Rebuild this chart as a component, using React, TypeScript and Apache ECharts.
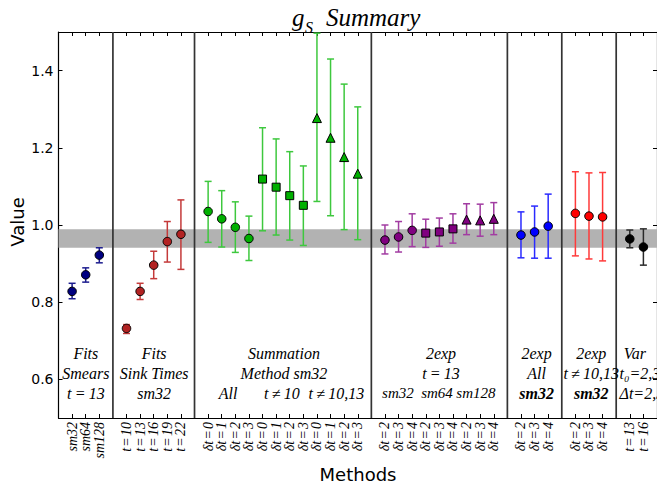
import React, { useEffect, useRef } from 'react';
import * as echarts from 'echarts';

// ---------- data ----------
const smearLabels = ['sm32', 'sm64', 'sm128'];
const smearVals = [0.828, 0.871, 0.922];
const smearLo = [0.809, 0.852, 0.902];
const smearHi = [0.849, 0.889, 0.941];

const sinkLabels = ['t\u200a=\u200a10', 't\u200a=\u200a13', 't\u200a=\u200a16', 't\u200a=\u200a19', 't\u200a=\u200a22'];
const sinkVals = [0.732, 0.828, 0.896, 0.957, 0.976];
const sinkLo = [0.719, 0.807, 0.861, 0.904, 0.885];
const sinkHi = [0.742, 0.849, 0.932, 1.009, 1.065];

const sumLabels = ['δt\u200a=\u200a0', 'δt\u200a=\u200a1', 'δt\u200a=\u200a2', 'δt\u200a=\u200a3'];
const sumAllVals = [1.035, 1.016, 0.994, 0.965];
const sumAllLo = [0.955, 0.943, 0.929, 0.908];
const sumAllHi = [1.113, 1.089, 1.060, 1.023];
const sumT10Vals = [1.119, 1.098, 1.076, 1.051];
const sumT10Lo = [0.985, 0.974, 0.961, 0.947];
const sumT10Hi = [1.252, 1.223, 1.190, 1.153];
const sumT1013Vals = [1.277, 1.226, 1.176, 1.133];
const sumT1013Lo = [1.061, 1.024, 0.988, 0.962];
const sumT1013Hi = [1.497, 1.430, 1.365, 1.306];

const expLabels = ['δt\u200a=\u200a2', 'δt\u200a=\u200a3', 'δt\u200a=\u200a4'];
const exp13Sm32Vals = [0.961, 0.969, 0.986];
const exp13Sm32Lo = [0.925, 0.930, 0.944];
const exp13Sm32Hi = [1.000, 1.009, 1.029];
const exp13Sm64Vals = [0.979, 0.982, 0.990];
const exp13Sm64Lo = [0.942, 0.945, 0.953];
const exp13Sm64Hi = [1.015, 1.018, 1.029];
const exp13Sm128Vals = [1.014, 1.012, 1.016];
const exp13Sm128Lo = [0.975, 0.971, 0.975];
const exp13Sm128Hi = [1.055, 1.054, 1.058];

const expAllVals = [0.974, 0.982, 0.997];
const expAllLo = [0.915, 0.914, 0.914];
const expAllHi = [1.034, 1.049, 1.080];

const expNotVals = [1.030, 1.023, 1.021];
const expNotLo = [0.920, 0.912, 0.907];
const expNotHi = [1.138, 1.135, 1.136];

const varLabels = ['t\u200a=\u200a13', 't\u200a=\u200a16'];
const varVals = [0.964, 0.943];
const varLo = [0.941, 0.896];
const varHi = [0.987, 0.990];

const bandLo = 0.941;
const bandHi = 0.989;

const yTicks = [0.6, 0.8, 1.0, 1.2, 1.4];
const yMin = 0.5;
const yMax = 1.5;

// ---------- layout of slots ----------
const groups = [
  smearLabels,
  sinkLabels,
  [...sumLabels, ...sumLabels, ...sumLabels],
  [...expLabels, ...expLabels, ...expLabels],
  expLabels,
  expLabels,
  varLabels,
];
const cats: string[] = [''];
const groupStart: number[] = [];
const sepSlots: number[] = [];
groups.forEach((g, gi) => {
  groupStart.push(cats.length);
  g.forEach((l) => cats.push(l));
  if (gi < groups.length - 1) sepSlots.push(cats.length);
  cats.push('');
});
const xMaxSlot = cats.length - 1;

const GRID_LEFT = 58.5;
const GRID_TOP = 32;
const UNIT = 13.66;
const GRID_W = UNIT * xMaxSlot;
const GRID_H = 386;
const slotX = (s: number) => GRID_LEFT + s * UNIT;

export default function App() {
  const ref = useRef<HTMLDivElement>(null);
  useEffect(() => {
    if (!ref.current) return;
    const chart = echarts.init(ref.current, undefined, { renderer: 'svg' });

    const series: any[] = [];

    // band
    series.push({
      type: 'custom',
      z: 1,
      silent: true,
      data: [[0, bandLo, bandHi]],
      encode: { x: 0, y: [1, 2] },
      renderItem: (params: any, api: any) => {
        const p1 = api.coord([0, api.value(2)]);
        const p2 = api.coord([xMaxSlot, api.value(1)]);
        return {
          type: 'rect',
          shape: { x: p1[0], y: p1[1], width: p2[0] - p1[0], height: p2[1] - p1[1] },
          style: { fill: '#b2b2b2' },
        };
      },
    });

    // separators
    series.push({
      type: 'custom',
      z: 3,
      silent: true,
      data: sepSlots.map((s) => [s, yMin, yMax]),
      encode: { x: 0, y: [1, 2] },
      renderItem: (params: any, api: any) => {
        const a = api.coord([api.value(0), yMax]);
        const b = api.coord([api.value(0), yMin]);
        return {
          type: 'line',
          shape: { x1: a[0], y1: a[1], x2: b[0], y2: b[1] },
          style: { stroke: '#333333', lineWidth: 1.7 },
        };
      },
    });

    const add = (
      start: number,
      vals: number[],
      lo: number[],
      hi: number[],
      symbol: string,
      size: number,
      fill: string,
      bar: string
    ) => {
      series.push({
        type: 'custom',
        z: 4,
        silent: true,
        data: vals.map((_, i) => [start + i, lo[i], hi[i]]),
        encode: { x: 0, y: [1, 2] },
        renderItem: (params: any, api: any) => {
          const x = api.value(0);
          const top = api.coord([x, api.value(2)]);
          const bot = api.coord([x, api.value(1)]);
          const w = 3.5;
          const st = { stroke: bar, lineWidth: 1.5 };
          return {
            type: 'group',
            children: [
              { type: 'line', shape: { x1: top[0], y1: top[1], x2: bot[0], y2: bot[1] }, style: st },
              { type: 'line', shape: { x1: top[0] - w, y1: top[1], x2: top[0] + w, y2: top[1] }, style: st },
              { type: 'line', shape: { x1: bot[0] - w, y1: bot[1], x2: bot[0] + w, y2: bot[1] }, style: st },
            ],
          };
        },
      });
      series.push({
        type: 'scatter',
        z: 5,
        symbol,
        symbolSize: size,
        data: vals.map((v, i) => [start + i, v]),
        itemStyle: { color: fill, borderColor: '#000', borderWidth: 1, opacity: 1 },
      });
    };

    add(groupStart[0], smearVals, smearLo, smearHi, 'circle', 8.5, '#000080', '#1c1c8e');
    add(groupStart[1], sinkVals, sinkLo, sinkHi, 'circle', 8.5, '#b22222', '#c43a3a');
    add(groupStart[2], sumAllVals, sumAllLo, sumAllHi, 'circle', 8.5, '#00b000', '#3ec83e');
    add(groupStart[2] + 4, sumT10Vals, sumT10Lo, sumT10Hi, 'rect', 8, '#00b000', '#3ec83e');
    add(groupStart[2] + 8, sumT1013Vals, sumT1013Lo, sumT1013Hi, 'triangle', 9, '#00b000', '#3ec83e');
    add(groupStart[3], exp13Sm32Vals, exp13Sm32Lo, exp13Sm32Hi, 'circle', 8.5, '#800080', '#a23ca2');
    add(groupStart[3] + 3, exp13Sm64Vals, exp13Sm64Lo, exp13Sm64Hi, 'rect', 8, '#800080', '#a23ca2');
    add(groupStart[3] + 6, exp13Sm128Vals, exp13Sm128Lo, exp13Sm128Hi, 'triangle', 9, '#800080', '#a23ca2');
    add(groupStart[4], expAllVals, expAllLo, expAllHi, 'circle', 8.5, '#0000ff', '#2a2aff');
    add(groupStart[5], expNotVals, expNotLo, expNotHi, 'circle', 8.5, '#ff0000', '#ff3a3a');
    add(groupStart[6], varVals, varLo, varHi, 'circle', 8.5, '#000000', '#2a2a2a');

    const serif = '"Liberation Serif", "DejaVu Serif", serif';
    const lab = (text: string, slot: number, row: number, opts: any = {}) => ({
      type: 'text',
      x: slotX(slot),
      y: 353 + row * 20,
      z: 10,
      style: {
        text,
        font: `italic ${opts.bold ? 'bold ' : ''}${opts.size || 16}px ${serif}`,
        fill: '#000',
        textAlign: opts.align || 'center',
        textVerticalAlign: 'middle',
      },
    });

    const ge = groupStart;
    const labels = [
      lab('Fits', ge[0] + 1, 0), lab('Smears', ge[0] + 1, 1), lab('t\u2009=\u200913', ge[0] + 1, 2),
      lab('Fits', ge[1] + 2, 0), lab('Sink Times', ge[1] + 2, 1), lab('sm32', ge[1] + 2, 2),
      lab('Summation', 16.5, 0), lab('Method sm32', 16.5, 1),
      lab('All', 12.42, 2), lab('t\u2009≠\u200910', 16.35, 2), lab('t\u2009≠\u200910,13', 20.34, 2),
      lab('2exp', 28, 0), lab('t\u2009=\u200913', 28, 1),
      lab('sm32', 24.85, 2, { size: 15 }), lab('sm64', 27.71, 2, { size: 15 }), lab('sm128', 30.56, 2, { size: 15 }),
      lab('2exp', 35, 0), lab('All', 35, 1), lab('sm32', 35, 2, { bold: true }),
      lab('2exp', 39, 0), lab('t\u2009≠\u200910,13', 39, 1), lab('sm32', 39, 2, { bold: true }),
      lab('Var', 42.2, 0), lab('t₀=2,3', 41.07, 1, { align: 'left' }),
      lab('Δt=2,3', 41.07, 2, { align: 'left' }),
    ];

    const sans = '"DejaVu Sans", sans-serif';

    chart.setOption({
      animation: false,
      backgroundColor: '#fff',
      grid: { left: GRID_LEFT, top: GRID_TOP, width: GRID_W, height: GRID_H, containLabel: false },
      xAxis: [
        {
          type: 'category',
          data: cats,
          boundaryGap: false,
          position: 'bottom',
          axisLine: { lineStyle: { color: '#000', width: 1.2 } },
          axisTick: {
            inside: true,
            length: 4,
            lineStyle: { color: '#000' },
            interval: (i: number) => cats[i] !== '',
          },
          axisLabel: {
            interval: 0,
            rotate: 90,
            margin: 4,
            color: '#000',
            fontFamily: serif,
            fontStyle: 'italic',
            fontSize: 14,
          },
          splitLine: { show: false },
        },
        {
          type: 'category',
          data: cats,
          boundaryGap: false,
          position: 'top',
          axisLine: { lineStyle: { color: '#000', width: 1.2 } },
          axisTick: {
            inside: true,
            length: 4,
            lineStyle: { color: '#000' },
            interval: (i: number) => cats[i] !== '',
          },
          axisLabel: { show: false },
          splitLine: { show: false },
        },
      ],
      yAxis: [
        {
          type: 'value',
          min: yMin,
          max: yMax,
          position: 'left',
          axisLine: { show: true, lineStyle: { color: '#000', width: 1.2 } },
          axisTick: { show: true, inside: true, length: 4, customValues: yTicks, lineStyle: { color: '#000' } },
          axisLabel: {
            customValues: yTicks,
            formatter: (v: number) => v.toFixed(1),
            color: '#000',
            fontFamily: sans,
            fontSize: 14,
            margin: 5,
          },
          splitLine: { show: false },
        },
        {
          type: 'value',
          min: yMin,
          max: yMax,
          position: 'right',
          axisLine: { show: true, lineStyle: { color: '#000', width: 1.2 } },
          axisTick: { show: true, inside: true, length: 4, customValues: yTicks, lineStyle: { color: '#000' } },
          axisLabel: { show: false },
          splitLine: { show: false },
        },
      ],
      graphic: [
        ...labels,
        {
          type: 'text', x: 292, y: 17.5,
          style: { text: 'g', font: `italic 25px ${serif}`, fill: '#000', textAlign: 'left', textVerticalAlign: 'middle' },
        },
        {
          type: 'text', x: 305, y: 27,
          style: { text: 'S', font: `italic 16px ${serif}`, fill: '#000', textAlign: 'left', textVerticalAlign: 'middle' },
        },
        {
          type: 'text', x: 326, y: 17.5,
          style: { text: 'Summary', font: `italic 25px ${serif}`, fill: '#000', textAlign: 'left', textVerticalAlign: 'middle' },
        },
        {
          type: 'text', x: 17, y: 222, rotation: Math.PI / 2,
          style: { text: 'Value', font: `18px ${sans}`, fill: '#000', textAlign: 'center', textVerticalAlign: 'middle' },
        },
        {
          type: 'text', x: 358, y: 474,
          style: { text: 'Methods', font: `18px ${sans}`, fill: '#000', textAlign: 'center', textVerticalAlign: 'middle' },
        },
      ],
      series,
    });

    return () => chart.dispose();
  }, []);

  return (
    <div
      ref={ref}
      style={{ position: 'fixed', left: 0, top: 0, width: 657, height: 486, background: '#fff' }}
    />
  );
}
